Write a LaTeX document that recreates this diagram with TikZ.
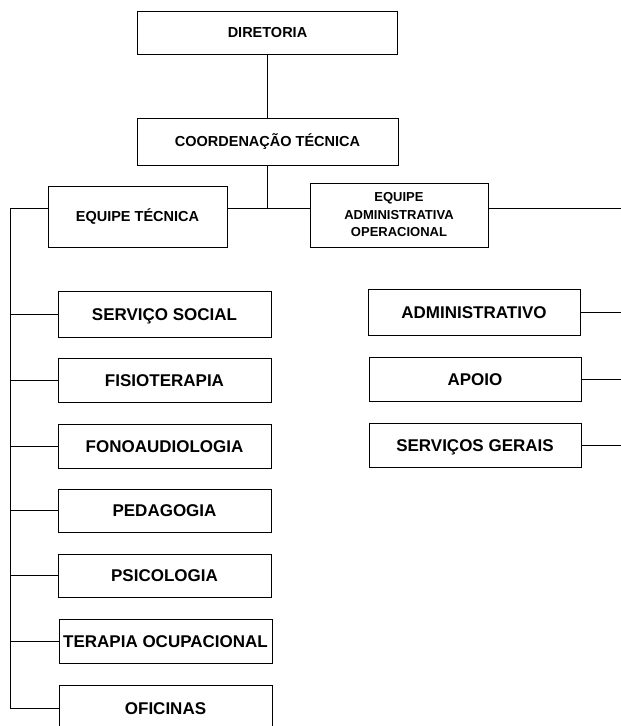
\documentclass[tikz,border=0pt]{standalone}
\usepackage{fontspec}
\setmainfont{Liberation Sans}
\begin{document}
\begin{tikzpicture}[x=1pt,y=-1pt,
  box/.style={draw=black,line width=1pt,rectangle,inner sep=0pt,align=center},
  topbox/.style={box,font=\bfseries\fontsize{14.5}{17.5}\selectfont,text height=10.4pt,text depth=0pt},
  lowbox/.style={box,font=\bfseries\fontsize{17}{20}\selectfont,text height=12.2pt,text depth=0pt},
  conn/.style={draw=black,line width=1pt}]
\useasboundingbox (0,0) rectangle (621,726);
\node[topbox,minimum width=260,minimum height=43] (dir) at (267.5,32.5) {DIRETORIA};
\node[topbox,minimum width=261,minimum height=47] (coord) at (267.5,141.5) {COORDENAÇÃO TÉCNICA};
\node[topbox,minimum width=179,minimum height=61] (eqtec) at (137.5,216.5) {EQUIPE TÉCNICA};
\node[box,font=\bfseries\fontsize{13}{17.5}\selectfont,minimum width=178,minimum height=64] (eqadm) at (399,215) {EQUIPE\\ADMINISTRATIVA\\OPERACIONAL};
% right column
\node[lowbox,minimum width=212,minimum height=46] (adm) at (474,312.5) {ADMINISTRATIVO};
\node[lowbox,minimum width=212,minimum height=44] (apoio) at (475,379.5) {APOIO};
\node[lowbox,minimum width=212,minimum height=44] (sg) at (475,445.5) {SERVIÇOS GERAIS};
% left column
\node[lowbox,minimum width=213,minimum height=46] (ss) at (164.5,314.5) {SERVIÇO SOCIAL};
\node[lowbox,minimum width=213,minimum height=44] (fis) at (164.5,380.5) {FISIOTERAPIA};
\node[lowbox,minimum width=213,minimum height=44] (fono) at (164.5,446.5) {FONOAUDIOLOGIA};
\node[lowbox,minimum width=213,minimum height=43] (ped) at (164.5,510.5) {PEDAGOGIA};
\node[lowbox,minimum width=213,minimum height=43] (psi) at (164.5,575.5) {PSICOLOGIA};
\node[lowbox,minimum width=213,minimum height=44] (to) at (165.5,641.5) {TERAPIA OCUPACIONAL};
\node[lowbox,minimum width=213,minimum height=46] (ofi) at (165.5,708.5) {OFICINAS};
% connectors
\coordinate (hub) at (267.5,208.5);
\coordinate (L) at (10.5,208.5);
\coordinate (Lb) at (10.5,708.5);
\coordinate (R) at (621,208.5);
\draw[conn] (dir) -- (coord);
\draw[conn] (coord) -- (hub);
\draw[conn] (eqtec.east |- hub) -- (eqadm.west |- hub);
\draw[conn] (eqtec.west |- hub) -- (L) -- (Lb) -- (ofi.west);
\draw[conn] (eqadm.east |- hub) -- (R);
\foreach \n in {ss,fis,fono,ped,psi,to}{
  \draw[conn] (\n.west) -- (\n.west -| L);
}
\foreach \n in {adm,apoio,sg}{
  \draw[conn] (\n.east) -- (\n.east -| R);
}
\end{tikzpicture}
\end{document}
